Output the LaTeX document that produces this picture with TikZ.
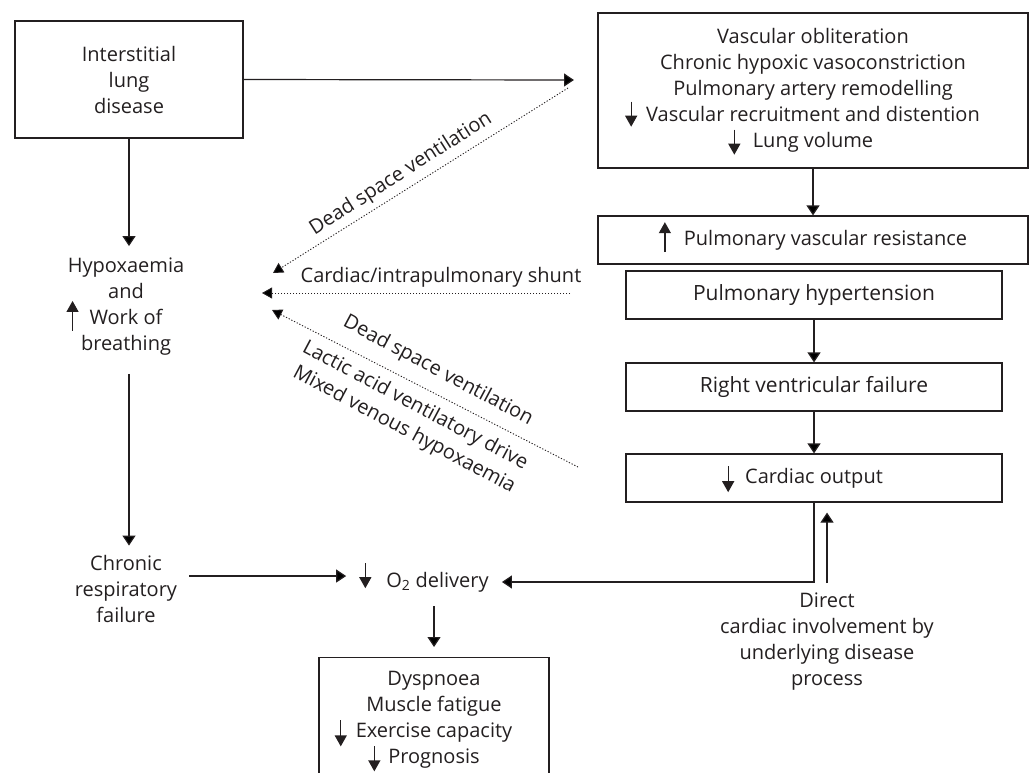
\documentclass[tikz,border=0pt]{standalone}
\usepackage{fontspec}
\setmainfont{Open Sans}
\usetikzlibrary{arrows.meta}
\definecolor{ink}{HTML}{231F20}
\newcommand{\dnarr}[2]{\smash{\tikz[baseline=0pt]\draw[ink,line width=1.3pt,-{Triangle[length=11pt,width=12pt]}] (0pt,#1pt)--(0pt,-#2pt);}}
\newcommand{\uparr}[2]{\smash{\tikz[baseline=0pt]\draw[ink,line width=1.3pt,-{Triangle[length=11pt,width=12pt]}] (0pt,-#2pt)--(0pt,#1pt);}}
\begin{document}
\begin{tikzpicture}[x=1pt,y=-1pt,
  every node/.style={font=\fontsize{20}{26}\selectfont, text=ink},
  big/.style={font=\fontsize{21}{26}\selectfont},
  lab/.style={inner sep=0pt},
  box/.style={draw=ink, line width=1.2pt, inner sep=0pt, align=center},
  txt/.style={align=center, inner sep=0pt},
  arr/.style={draw=ink, line width=1.2pt, -{Triangle[length=10pt,width=13pt]}},
  dot/.style={draw=ink, line width=0.9pt, dash pattern=on 1.2pt off 1.8pt, -{Triangle[length=10pt,width=11pt]}}]
\useasboundingbox (0,0) rectangle (1032,772);
\clip (0,0) rectangle (1032,772);
% boxes
\node[box, minimum width=228pt, minimum height=117pt] (ild) at (129,79.5) {Interstitial\\lung\\disease};
\node[box, minimum width=430pt, minimum height=155pt] (vasc) at (813,90.5)
  {Vascular obliteration\\Chronic hypoxic vasoconstriction\\Pulmonary artery remodelling\\
   \llap{\dnarr{20}{5}\hspace{9pt}}Vascular recruitment and distention\\\llap{\dnarr{18}{7}\hspace{12.5pt}}Lung volume};
\node[box, minimum width=430pt, minimum height=48pt] (pvr) at (813,240) {\uparr{23}{7}\hspace{13pt}Pulmonary vascular resistance};
\node[box, big, minimum width=376pt, minimum height=48pt] (ph) at (814,295) {Pulmonary hypertension};
\node[box, big, minimum width=376pt, minimum height=48pt] (rvf) at (814,387) {Right ventricular failure};
\node[box, minimum width=376pt, minimum height=48pt] (co) at (814,478) {\llap{\dnarr{17}{9}\hspace{11pt}}Cardiac output};
\node[box, minimum width=230pt, minimum height=124pt, anchor=north] (out) at (434,657)
  {Dyspnoea\\Muscle fatigue\\\llap{\dnarr{17}{9}\hspace{9pt}}Exercise capacity\\\llap{\dnarr{17}{8}\hspace{8pt}}Prognosis};
% free text nodes
\node[txt] (hyp) at (126,307) {Hypoxaemia\\and\\\llap{\uparr{24}{6}\hspace{11pt}}Work of\\breathing};
\node[txt] (crf) at (126,588.5) {Chronic\\respiratory\\failure};
\node[txt] (o2) at (437.5,582) {\llap{\dnarr{24}{1}\hspace{15pt}}O\textsubscript{2} delivery};
\node[txt, anchor=north] (dir) at (827,593) {Direct\\cardiac involvement by\\underlying disease\\process};
% solid connectors
\coordinate (tipA) at (574,80);
\draw[arr] (ild.east) -- (tipA);
\draw[arr] (ild.south) -- ([yshift=12pt]hyp.north -| ild.south);
\draw[arr] ([yshift=-18pt]hyp.south -| ild.south) -- ([yshift=9pt]crf.north -| ild.south);
\draw[arr] ([xshift=12pt,yshift=12.5pt]crf.east) -- ([xshift=-40pt,yshift=12.5pt]crf.east -| o2.west);
\draw[arr] ([yshift=-14pt]o2.south -| out.north) -- ([yshift=10pt]out.north);
\draw[arr] (vasc.south) -- (pvr.north);
\draw[arr] (ph.south) -- (rvf.north);
\draw[arr] (rvf.south) -- (co.north);
\draw[arr] (co.south) -- (co.south |- o2.east) -- ([xshift=13pt]o2.east);
\draw[arr] ([yshift=10pt]dir.north) -- ([yshift=-10pt]dir.north |- co.south);
% dotted connectors
\coordinate (d1a) at (568,88); \coordinate (d1b) at (273,273);
\coordinate (d2a) at (570,293); \coordinate (d2b) at (262,293);
\coordinate (d3a) at (578,467); \coordinate (d3b) at (272,310);
\draw[dot] (d1a) -- (d1b);
\draw[dot] (d2a) -- (d2b);
\draw[dot] (d3a) -- (d3b);
\node[lab, rotate=32.5] (l1) at (401,174) {Dead space ventilation};
\node[lab] (l2) at (441,277) {Cardiac/intrapulmonary shunt};
\node[lab, rotate=-28] (l3) at (438,371) {Dead space ventilation};
\node[lab, rotate=-28] (l4) at (415,406) {Lactic acid ventilatory drive};
\node[lab, rotate=-28] (l5) at (404,430) {Mixed venous hypoxaemia};
\end{tikzpicture}
\end{document}
